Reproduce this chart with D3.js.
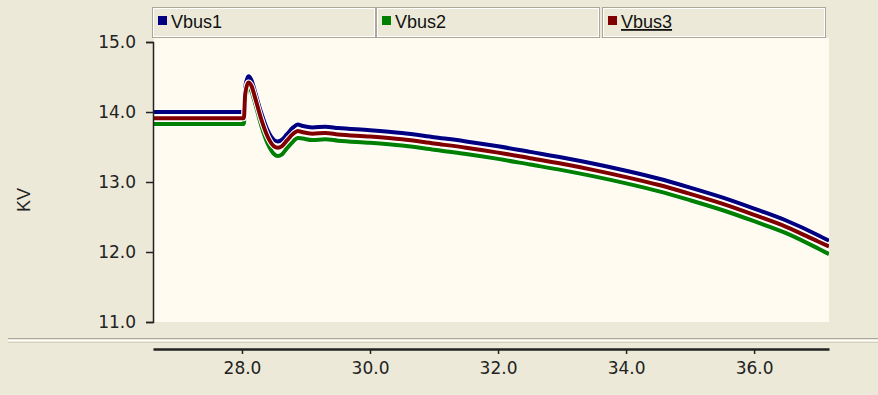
<!DOCTYPE html>
<html>
<head>
<meta charset="utf-8">
<script src="https://cdn.jsdelivr.net/npm/d3@7"></script>
<style>
  body { margin: 0; background: #ece9d8; }
  svg { display: block; font-family: "Liberation Sans", Arial, sans-serif; }
</style>
</head>
<body>
<svg id="chart" width="878" height="395"></svg>
<script>
// time axis (s)
var times = [26.6, 28.03, 28.05, 28.1, 28.15, 28.2, 28.3, 28.4, 28.5, 28.56, 28.62, 28.7, 28.8, 28.87,
  28.95, 29.1, 29.3, 29.5, 30.0, 30.5, 31.0, 31.5, 32.0, 32.5, 33.0, 33.5, 34.0, 34.5, 35.0,
  35.5, 36.0, 36.5, 37.0, 37.17];

var vbus1 = [14.00, 14.00, 14.35, 14.51, 14.45, 14.30, 13.99, 13.74, 13.60, 13.58, 13.60, 13.68, 13.78, 13.82,
  13.80, 13.78, 13.79, 13.77, 13.74, 13.70, 13.64, 13.58, 13.51, 13.43, 13.35, 13.26, 13.16, 13.05, 12.92,
  12.78, 12.62, 12.45, 12.24, 12.16];
var vbus2 = [13.83, 13.83, 14.16, 14.34, 14.29, 14.14, 13.81, 13.55, 13.40, 13.37, 13.39, 13.48, 13.58, 13.63,
  13.62, 13.60, 13.61, 13.59, 13.56, 13.52, 13.46, 13.40, 13.33, 13.25, 13.17, 13.08, 12.98, 12.87, 12.74,
  12.60, 12.44, 12.27, 12.05, 11.97];
var vbus3 = [13.91, 13.91, 14.25, 14.42, 14.37, 14.22, 13.90, 13.65, 13.51, 13.49, 13.51, 13.59, 13.69, 13.73,
  13.71, 13.69, 13.70, 13.68, 13.65, 13.61, 13.55, 13.49, 13.42, 13.34, 13.26, 13.17, 13.07, 12.96, 12.83,
  12.69, 12.53, 12.36, 12.15, 12.08];

var seriesNames = ["Vbus1", "Vbus2", "Vbus3"];
var seriesColors = ["#000080", "#008000", "#800000"];
var yTicks = [11, 12, 13, 14, 15];
var xTicks = [28, 30, 32, 34, 36];

var svg = d3.select("#chart");

var plotLeft = 153, plotRight = 829, plotTop = 42, plotBottom = 322;
var tickFont = "'DejaVu Sans', sans-serif";

var x = d3.scaleLinear().domain([26.61, 37.17]).range([plotLeft, plotRight]);
var y = d3.scaleLinear().domain([11, 15]).range([plotBottom, plotTop]);

// plot background
svg.append("rect")
  .attr("x", plotLeft + 1).attr("y", 38)
  .attr("width", plotRight - plotLeft - 1).attr("height", plotBottom - 38)
  .attr("fill", "#fffbf0");

svg.append("clipPath").attr("id", "clip")
  .append("rect")
  .attr("x", plotLeft + 1).attr("y", 38)
  .attr("width", plotRight - plotLeft - 1).attr("height", plotBottom - 38);

// separator between plot and time axis
svg.append("line").attr("x1", 8).attr("x2", 878).attr("y1", 338.5).attr("y2", 338.5)
  .attr("stroke", "#aca899");
svg.append("line").attr("x1", 8).attr("x2", 878).attr("y1", 340.5).attr("y2", 340.5)
  .attr("stroke", "#ffffff");
svg.append("line").attr("x1", 8).attr("x2", 878).attr("y1", 342.5).attr("y2", 342.5)
  .attr("stroke", "#d6d2c2");

// lines
var line = d3.line()
  .x(function (d) { return x(d[0]); })
  .y(function (d) { return y(d[1]); })
  .curve(d3.curveMonotoneX);

var allSeries = [vbus1, vbus2, vbus3];
var g = svg.append("g").attr("clip-path", "url(#clip)");
allSeries.forEach(function (vals, i) {
  var pts = times.map(function (t, j) { return [t, vals[j]]; });
  g.append("path").attr("d", line(pts))
    .attr("fill", "none").attr("stroke", "#ffffff").attr("stroke-width", 6);
  g.append("path").attr("d", line(pts))
    .attr("fill", "none").attr("stroke", seriesColors[i]).attr("stroke-width", 4);
});

// y axis
var yAxis = d3.axisLeft(y).tickValues(yTicks).tickSize(7).tickPadding(10)
  .tickFormat(d3.format(".1f"));
var ya = svg.append("g").attr("transform", "translate(" + plotLeft + ",0)").call(yAxis);
ya.select(".domain").attr("stroke", "#222").attr("stroke-width", 1.5);
ya.selectAll(".tick line").attr("stroke", "#222").attr("stroke-width", 1.5);
ya.selectAll("text").attr("font-size", 17).attr("fill", "#222")
  .attr("font-family", tickFont);

svg.append("text")
  .attr("transform", "translate(30,200) rotate(-90)")
  .attr("text-anchor", "middle")
  .attr("font-size", 18).attr("fill", "#222")
  .text("KV");

// x axis
var xAxis = d3.axisBottom(x).tickValues(xTicks).tickSize(5).tickPadding(8)
  .tickSizeOuter(0).tickFormat(d3.format(".1f"));
var xa = svg.append("g").attr("transform", "translate(0,349)").call(xAxis);
xa.select(".domain").attr("stroke", "#222").attr("stroke-width", 2.5);
xa.selectAll(".tick line").attr("stroke", "#222").attr("stroke-width", 1.5);
xa.selectAll("text").attr("font-size", 17).attr("fill", "#222")
  .attr("font-family", tickFont);

// legend boxes
var legendX = [152, 376, 602];
var legendW = 223;
seriesNames.forEach(function (name, i) {
  var lg = svg.append("g").attr("transform", "translate(" + legendX[i] + ",7)");
  lg.append("rect").attr("x", 0.5).attr("y", 0.5).attr("width", legendW).attr("height", 30)
    .attr("fill", "#ece9d8").attr("stroke", "#aca899");
  lg.append("rect").attr("x", 1.5).attr("y", 1.5).attr("width", legendW - 2).attr("height", 28)
    .attr("fill", "none").attr("stroke", "#ffffff");
  lg.append("rect").attr("x", 6).attr("y", 9).attr("width", 9).attr("height", 9)
    .attr("fill", seriesColors[i]);
  lg.append("text").attr("x", 19).attr("y", 21)
    .attr("font-size", 18).attr("fill", "#111")
    .attr("text-decoration", i === 2 ? "underline" : null)
    .text(name);
});
</script>
</body>
</html>
